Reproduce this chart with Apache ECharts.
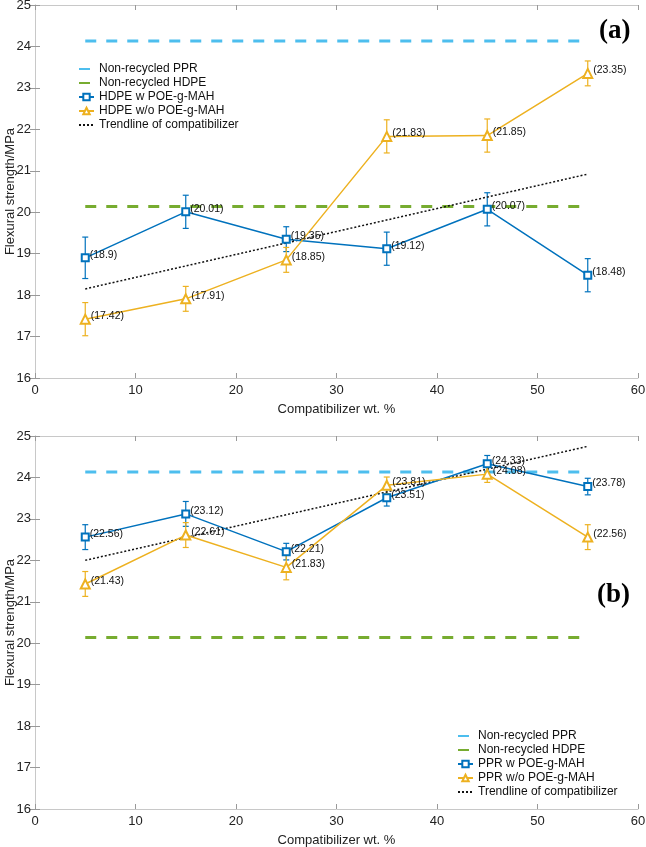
<!DOCTYPE html>
<html>
<head>
<meta charset="utf-8">
<script src="https://cdn.jsdelivr.net/npm/echarts@6/dist/echarts.min.js"></script>
<style>
  html, body { margin: 0; padding: 0; background: #fff; }
  #main { width: 646px; height: 847px; }
</style>
</head>
<body>
<div id="main"></div>
<script>
// compatibilizer loading (wt. %)
var xs = [5, 15, 25, 35, 45, 55];

// (a) HDPE
var hdpeW = [18.9, 20.01, 19.35, 19.12, 20.07, 18.48];
var hdpeWErr = [0.5, 0.4, 0.3, 0.4, 0.4, 0.4];
var hdpeWo = [17.42, 17.91, 18.85, 21.83, 21.85, 23.35];
var hdpeWoErr = [0.4, 0.3, 0.3, 0.4, 0.4, 0.3];
var trendA = [18.15, 20.92];

// (b) PPR
var pprW = [22.56, 23.12, 22.21, 23.51, 24.33, 23.78];
var pprWErr = [0.3, 0.3, 0.2, 0.2, 0.2, 0.2];
var pprWo = [21.43, 22.61, 21.83, 23.81, 24.08, 22.56];
var pprWoErr = [0.3, 0.3, 0.3, 0.2, 0.2, 0.3];
var trendB = [22.0, 24.75];

// reference levels of non-recycled materials
var refPPR = 24.13;
var refHDPE = 20.14;

var BLUE = '#0072BD', ORANGE = '#EDB120', SKY = '#4DBEEE', GREEN = '#77AC30';
var FONT = 'Liberation Sans';

function pairs(vals){
	return xs.map(function(x, i){ return [x, vals[i]]; });
}

function errSeries(vals, errs, color, gi){
	return {
		type: 'custom',
		xAxisIndex: gi * 2, yAxisIndex: gi * 2,
		silent: true, z: 3,
		data: xs.map(function(x, i){ return [x, vals[i] - errs[i], vals[i] + errs[i]]; }),
		renderItem: function(params, api){
			var lo = api.coord([api.value(0), api.value(1)]);
			var hi = api.coord([api.value(0), api.value(2)]);
			var w = 3;
			var st = { stroke: color, lineWidth: 1.2 };
			return { type: 'group', children: [
				{ type: 'line', shape: { x1: lo[0], y1: lo[1], x2: hi[0], y2: hi[1] }, style: st },
				{ type: 'line', shape: { x1: lo[0] - w, y1: lo[1], x2: lo[0] + w, y2: lo[1] }, style: st },
				{ type: 'line', shape: { x1: hi[0] - w, y1: hi[1], x2: hi[0] + w, y2: hi[1] }, style: st }
			]};
		}
	};
}

function dataSeries(name, vals, color, sym, gi){
	return {
		name: name, type: 'line',
		xAxisIndex: gi * 2, yAxisIndex: gi * 2,
		data: pairs(vals), z: 4,
		symbol: sym, symbolSize: sym == 'emptyTriangle' ? 9 : 7,
		lineStyle: { color: color, width: 1.5 },
		itemStyle: { color: color, borderWidth: 1.3 },
		label: {
			show: true, position: 'right', distance: 0, offset: [0, -3],
			fontFamily: FONT, fontSize: 10.5, color: '#111',
			formatter: function(p){ return '(' + p.value[1] + ')'; }
		},
		emphasis: { disabled: true }
	};
}

// plain lines (reference levels, trendline): symbol kept only for the legend, hidden there too
function refSeries(name, level, color, gi){
	return {
		name: name, type: 'line',
		xAxisIndex: gi * 2, yAxisIndex: gi * 2,
		data: [[xs[0], level], [xs[xs.length - 1], level]],
		symbol: 'circle', showSymbol: false, z: 2,
		lineStyle: { color: color, width: 3, type: [11, 10] },
		itemStyle: { color: color },
		emphasis: { disabled: true }
	};
}

function trendSeries(ends, gi){
	return {
		name: 'Trendline of compatibilizer', type: 'line',
		xAxisIndex: gi * 2, yAxisIndex: gi * 2,
		data: [[xs[0], ends[0]], [xs[xs.length - 1], ends[1]]],
		symbol: 'circle', showSymbol: false, z: 3,
		lineStyle: { color: '#111', width: 1.5, type: [2, 2] },
		itemStyle: { color: '#111' },
		emphasis: { disabled: true }
	};
}

var grids = [
	{ left: 35, right: 8, top: 5, height: 373, outerBoundsMode: 'none' },
	{ left: 35, right: 8, top: 436, height: 373, outerBoundsMode: 'none' }
];

var xAxes = [], yAxes = [];
grids.forEach(function(g, gi){
	xAxes.push({
		gridIndex: gi, type: 'value', min: 0, max: 60, interval: 10,
		name: 'Compatibilizer wt. %', nameLocation: 'middle', nameGap: 25, nameMoveOverlap: false,
		nameTextStyle: { fontFamily: FONT, fontSize: 13, color: '#222' },
		axisLine: { lineStyle: { color: '#c8c8c8', width: 1 } },
		axisTick: { inside: true, length: 5, lineStyle: { color: '#999' } },
		axisLabel: { fontFamily: FONT, fontSize: 13, color: '#222', margin: 6 },
		splitLine: { show: false }
	});
	xAxes.push({
		gridIndex: gi, type: 'value', min: 0, max: 60, interval: 10, position: 'top',
		axisLine: { lineStyle: { color: '#c8c8c8', width: 1 } },
		axisTick: { inside: true, length: 5, lineStyle: { color: '#999' } },
		axisLabel: { show: false }, splitLine: { show: false }
	});
	yAxes.push({
		gridIndex: gi, type: 'value', min: 16, max: 25, interval: 1,
		name: 'Flexural strength/MPa', nameLocation: 'middle', nameGap: 18, nameMoveOverlap: false,
		nameTextStyle: { fontFamily: FONT, fontSize: 13, color: '#222' },
		axisLine: { show: true, lineStyle: { color: '#c8c8c8', width: 1 } },
		axisTick: { show: true, inside: true, length: 5, lineStyle: { color: '#999' } },
		axisLabel: { fontFamily: FONT, fontSize: 13, color: '#222', margin: 4 },
		splitLine: { show: false }
	});
	yAxes.push({
		gridIndex: gi, type: 'value', min: 16, max: 25, interval: 1, position: 'right',
		axisLine: { show: true, lineStyle: { color: '#c8c8c8', width: 1 } },
		axisTick: { show: true, inside: true, length: 5, lineStyle: { color: '#999' } },
		axisLabel: { show: false }, splitLine: { show: false }
	});
});

var legendText = { fontFamily: FONT, fontSize: 12, color: '#111' };
var noSym = { opacity: 0 };

function legendItems(wName, woName){
	return [
		{ name: 'Non-recycled PPR', itemStyle: noSym },
		{ name: 'Non-recycled HDPE', itemStyle: noSym },
		wName, woName,
		{ name: 'Trendline of compatibilizer', itemStyle: noSym }
	];
}

var option = {
	backgroundColor: '#fff',
	animation: false,
	title: [
		{ text: '(a)', left: 594, top: 13, textStyle: { fontFamily: 'Liberation Serif', fontWeight: 'bold', fontSize: 27, color: '#000' } },
		{ text: '(b)', left: 592, top: 577, textStyle: { fontFamily: 'Liberation Serif', fontWeight: 'bold', fontSize: 27, color: '#000' } }
	],
	grid: grids,
	xAxis: xAxes,
	yAxis: yAxes,
	legend: [
		{
			orient: 'vertical', left: 73, top: 58, itemWidth: 15, itemHeight: 8, itemGap: 2,
			textStyle: legendText,
			data: legendItems('HDPE w POE-g-MAH', 'HDPE w/o POE-g-MAH')
		},
		{
			orient: 'vertical', left: 452, top: 725, itemWidth: 15, itemHeight: 8, itemGap: 2,
			textStyle: legendText,
			data: legendItems('PPR w POE-g-MAH', 'PPR w/o POE-g-MAH')
		}
	],
	series: [
		refSeries('Non-recycled PPR', refPPR, SKY, 0),
		refSeries('Non-recycled HDPE', refHDPE, GREEN, 0),
		errSeries(hdpeW, hdpeWErr, BLUE, 0),
		errSeries(hdpeWo, hdpeWoErr, ORANGE, 0),
		dataSeries('HDPE w POE-g-MAH', hdpeW, BLUE, 'emptyRect', 0),
		dataSeries('HDPE w/o POE-g-MAH', hdpeWo, ORANGE, 'emptyTriangle', 0),
		trendSeries(trendA, 0),

		refSeries('Non-recycled PPR', refPPR, SKY, 1),
		refSeries('Non-recycled HDPE', refHDPE, GREEN, 1),
		errSeries(pprW, pprWErr, BLUE, 1),
		errSeries(pprWo, pprWoErr, ORANGE, 1),
		dataSeries('PPR w POE-g-MAH', pprW, BLUE, 'emptyRect', 1),
		dataSeries('PPR w/o POE-g-MAH', pprWo, ORANGE, 'emptyTriangle', 1),
		trendSeries(trendB, 1)
	]
};

var myChart = echarts.init(document.getElementById('main'));
myChart.setOption(option);
</script>
</body>
</html>
